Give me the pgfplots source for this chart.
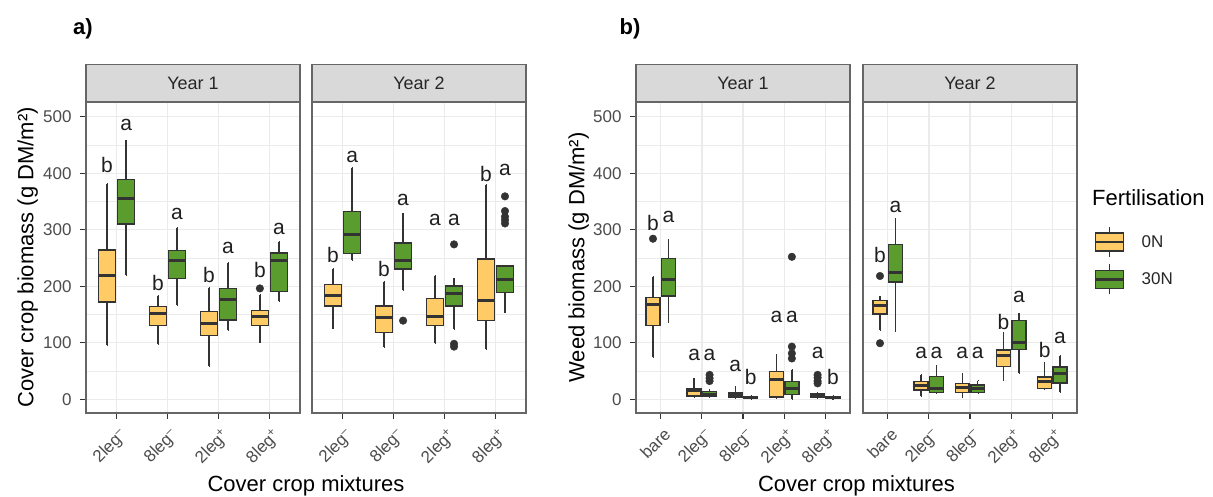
\documentclass[border=0pt]{standalone}
\usepackage{fontspec}
\setmainfont{Liberation Sans}
\usepackage{pgfplots}
\pgfplotsset{compat=1.18}
\usepgfplotslibrary{statistics}

\definecolor{c0}{HTML}{FFCB66}
\definecolor{c1}{HTML}{5A9C2E}
\definecolor{cl}{HTML}{333333}
\definecolor{gridc}{HTML}{EBEBEB}
\definecolor{stripc}{HTML}{D9D9D9}

\tikzset{lt/.style={font=\fontsize{21}{21}\selectfont, text=black!88, inner sep=0pt, anchor=center}}

\pgfplotsset{
  panel/.style={
    scale only axis, width=214pt, height=311pt, anchor=south west,
    ymin=-24.5, ymax=526, ytick={0,100,200,300,400,500}, minor ytick={50,150,250,350,450},
    xmin=0.4,
    grid=both,
    major grid style={draw=gridc, line width=1.3pt},
    minor grid style={draw=gridc, line width=0.7pt},
    axis line style={draw=black!60, line width=1.1pt},
    tick align=outside, tick pos=left, major tick length=6pt, minor tick length=0pt,
    tick style={draw=cl, line width=1.1pt},
    ticklabel style={font=\fontsize{17}{17}\selectfont, text=black!70},
    /pgf/number format/assume math mode=true,
    xticklabel style={rotate=45, anchor=north east, inner sep=2pt, yshift=-5pt, xshift=-2pt},
    yticklabel style={xshift=-5pt},
    every axis title/.style={at={(0.5,1)}, anchor=south, minimum width=214pt, minimum height=37pt,
      fill=stripc, draw=black!60, line width=1.1pt, inner sep=0pt,
      font=\fontsize{18}{18}\selectfont, text=black!85},
    ylabel style={anchor=center, font=\fontsize{22}{22}\selectfont, text=black},
    xlabel style={anchor=base, font=\fontsize{22}{22}\selectfont, text=black},
    boxplot/draw direction=y,
  },
  bx/.style={boxplot prepared={draw direction=y, box extend=0.3375, whisker extend=0.01, #1}, draw=cl, line width=1.5pt, solid, mark=none},
  boxplot/every median/.style={line width=3pt},
  outl/.style={only marks, mark=*, mark size=3.8pt, color=cl},
  leg0/.style={legend image code/.code={
      \draw[draw=cl, line width=1.4pt] (14pt,-15pt) -- (14pt,15pt);
      \draw[fill=c0, draw=cl, line width=1.4pt] (0pt,-9pt) rectangle (28pt,9pt);
      \draw[draw=cl, line width=2.5pt] (0pt,0pt) -- (28pt,0pt);}},
  leg1/.style={legend image code/.code={
      \draw[draw=cl, line width=1.4pt] (14pt,-15pt) -- (14pt,15pt);
      \draw[fill=c1, draw=cl, line width=1.4pt] (0pt,-9pt) rectangle (28pt,9pt);
      \draw[draw=cl, line width=2.5pt] (0pt,0pt) -- (28pt,0pt);}},
}

\begin{document}
\begin{tikzpicture}
\useasboundingbox (0pt,0pt) rectangle (1213pt,497pt);

% ---------------- a) Year 1
\begin{axis}[panel, at={(86pt,84pt)}, xmax=4.6, xtick={1,2,3,4},
  xticklabels={2leg\textsuperscript{–},8leg\textsuperscript{–},2leg\textsuperscript{+},8leg\textsuperscript{+}},
  title={Year 1},
  ylabel={Cover crop biomass (g DM/m²)}, ylabel style={at={(axis description cs:-0.272,0.5)}},
  xlabel={Cover crop mixtures}, xlabel style={at={(axis description cs:1.028,-0.254)}}]
\addplot[bx={draw position=0.8125,lower whisker=96,lower quartile=172,median=218,upper quartile=264,upper whisker=381},fill=c0] coordinates {};
\addplot[bx={draw position=1.1875,lower whisker=220,lower quartile=310,median=355,upper quartile=389,upper whisker=458},fill=c1] coordinates {};
\addplot[bx={draw position=1.8125,lower whisker=98,lower quartile=130,median=152,upper quartile=164,upper whisker=183},fill=c0] coordinates {};
\addplot[bx={draw position=2.1875,lower whisker=167,lower quartile=214,median=245,upper quartile=263,upper whisker=303},fill=c1] coordinates {};
\addplot[bx={draw position=2.8125,lower whisker=59,lower quartile=113,median=134,upper quartile=155,upper whisker=197},fill=c0] coordinates {};
\addplot[bx={draw position=3.1875,lower whisker=122,lower quartile=140,median=177,upper quartile=196,upper whisker=241},fill=c1] coordinates {};
\addplot[bx={draw position=3.8125,lower whisker=100,lower quartile=130,median=146,upper quartile=157,upper whisker=184},fill=c0] coordinates {};
\addplot[bx={draw position=4.1875,lower whisker=173,lower quartile=191,median=245,upper quartile=259,upper whisker=279},fill=c1] coordinates {};
\addplot[outl] coordinates {(3.8125,196)};
\node[lt] at (axis cs:0.8125,414) {b};
\node[lt] at (axis cs:1.1875,485) {a};
\node[lt] at (axis cs:1.8125,205) {b};
\node[lt] at (axis cs:2.1875,327) {a};
\node[lt] at (axis cs:2.8125,220) {b};
\node[lt] at (axis cs:3.1875,267) {a};
\node[lt] at (axis cs:3.8125,228) {b};
\node[lt] at (axis cs:4.1875,302) {a};
\end{axis}

% ---------------- a) Year 2
\begin{axis}[panel, at={(312pt,84pt)}, xmax=4.6, xtick={1,2,3,4},
  xticklabels={2leg\textsuperscript{–},8leg\textsuperscript{–},2leg\textsuperscript{+},8leg\textsuperscript{+}},
  title={Year 2}, yticklabels={}, ytick style={draw=none}]
\addplot[bx={draw position=0.8125,lower whisker=125,lower quartile=165,median=184,upper quartile=203,upper whisker=231},fill=c0] coordinates {};
\addplot[bx={draw position=1.1875,lower whisker=246,lower quartile=258,median=292,upper quartile=332,upper whisker=410},fill=c1] coordinates {};
\addplot[bx={draw position=1.8125,lower whisker=92,lower quartile=118,median=145,upper quartile=165,upper whisker=208},fill=c0] coordinates {};
\addplot[bx={draw position=2.1875,lower whisker=193,lower quartile=230,median=245,upper quartile=276,upper whisker=329},fill=c1] coordinates {};
\addplot[bx={draw position=2.8125,lower whisker=99,lower quartile=130,median=146,upper quartile=178,upper whisker=218},fill=c0] coordinates {};
\addplot[bx={draw position=3.1875,lower whisker=124,lower quartile=165,median=187,upper quartile=200,upper whisker=214},fill=c1] coordinates {};
\addplot[bx={draw position=3.8125,lower whisker=88,lower quartile=139,median=174,upper quartile=248,upper whisker=379},fill=c0] coordinates {};
\addplot[bx={draw position=4.1875,lower whisker=153,lower quartile=189,median=211,upper quartile=236,upper whisker=237},fill=c1] coordinates {};
\addplot[outl] coordinates {(2.1875,139) (3.1875,274) (3.1875,98) (3.1875,93) (4.1875,359) (4.1875,333) (4.1875,323) (4.1875,317) (4.1875,311)};
\node[lt] at (axis cs:0.8125,255) {b};
\node[lt] at (axis cs:1.1875,429) {a};
\node[lt] at (axis cs:1.8125,231) {b};
\node[lt] at (axis cs:2.1875,352) {a};
\node[lt] at (axis cs:2.8125,317) {a};
\node[lt] at (axis cs:3.1875,317) {a};
\node[lt] at (axis cs:3.8125,399) {b};
\node[lt] at (axis cs:4.1875,405) {a};
\end{axis}

% ---------------- b) Year 1
\begin{axis}[panel, at={(636pt,84pt)}, xmax=5.6, xtick={1,2,3,4,5},
  xticklabels={bare,2leg\textsuperscript{–},8leg\textsuperscript{–},2leg\textsuperscript{+},8leg\textsuperscript{+}},
  title={Year 1},
  ylabel={Weed biomass (g DM/m²)}, ylabel style={at={(axis description cs:-0.268,0.5)}},
  xlabel={Cover crop mixtures}, xlabel style={at={(axis description cs:1.030,-0.254)}}]
\addplot[bx={draw position=0.8125,lower whisker=75,lower quartile=130,median=168,upper quartile=180,upper whisker=217},fill=c0] coordinates {};
\addplot[bx={draw position=1.1875,lower whisker=137,lower quartile=183,median=211,upper quartile=249,upper whisker=283},fill=c1] coordinates {};
\addplot[bx={draw position=1.8125,lower whisker=3,lower quartile=6,median=15,upper quartile=19,upper whisker=37},fill=c0] coordinates {};
\addplot[bx={draw position=2.1875,lower whisker=3.5,lower quartile=5,median=9,upper quartile=13.5,upper whisker=16},fill=c1] coordinates {};
\addplot[bx={draw position=2.8125,lower whisker=2,lower quartile=3.5,median=8,upper quartile=12,upper whisker=22},fill=c0] coordinates {};
\addplot[bx={draw position=3.1875,lower whisker=0,lower quartile=1.2,median=2.4,upper quartile=3.5,upper whisker=6},fill=c1] coordinates {};
\addplot[bx={draw position=3.8125,lower whisker=2,lower quartile=3.5,median=34,upper quartile=49,upper whisker=78},fill=c0] coordinates {};
\addplot[bx={draw position=4.1875,lower whisker=0,lower quartile=8,median=19,upper quartile=31,upper whisker=52},fill=c1] coordinates {};
\addplot[bx={draw position=4.8125,lower whisker=2,lower quartile=3.5,median=6.5,upper quartile=9,upper whisker=11},fill=c0] coordinates {};
\addplot[bx={draw position=5.1875,lower whisker=0,lower quartile=1,median=3,upper quartile=5,upper whisker=6},fill=c1] coordinates {};
\addplot[outl] coordinates {(0.8125,284) (2.1875,43) (2.1875,37) (2.1875,32) (4.1875,252) (4.1875,93) (4.1875,81) (4.1875,72) (4.8125,43) (4.8125,38) (4.8125,32) (4.8125,28)};
\node[lt] at (axis cs:0.8125,311) {b};
\node[lt] at (axis cs:1.1875,323) {a};
\node[lt] at (axis cs:1.8125,78) {a};
\node[lt] at (axis cs:2.1875,78) {a};
\node[lt] at (axis cs:2.8125,58) {a};
\node[lt] at (axis cs:3.1875,40) {b};
\node[lt] at (axis cs:3.8125,146) {a};
\node[lt] at (axis cs:4.1875,146) {a};
\node[lt] at (axis cs:4.8125,81) {a};
\node[lt] at (axis cs:5.1875,40) {b};
\end{axis}

% ---------------- b) Year 2
\begin{axis}[panel, at={(863pt,84pt)}, xmax=5.6, xtick={1,2,3,4,5},
  xticklabels={bare,2leg\textsuperscript{–},8leg\textsuperscript{–},2leg\textsuperscript{+},8leg\textsuperscript{+}},
  title={Year 2}, yticklabels={}, ytick style={draw=none},
  legend style={at={(1.079,0.601)}, anchor=north west, draw=none, fill=none, inner sep=0pt,
    font=\fontsize{17}{17}\selectfont, row sep=6pt, column sep=17pt, nodes={inner sep=0pt, text=black!85}},
  legend cell align=left]
\addlegendimage{leg0}
\addlegendentry{0N}
\addlegendimage{leg1}
\addlegendentry{30N}
\addplot[bx={draw position=0.8125,lower whisker=122,lower quartile=151,median=165,upper quartile=175,upper whisker=182},fill=c0] coordinates {};
\addplot[bx={draw position=1.1875,lower whisker=120,lower quartile=207,median=224,upper quartile=274,upper whisker=320},fill=c1] coordinates {};
\addplot[bx={draw position=1.8125,lower whisker=6,lower quartile=16.5,median=25,upper quartile=31,upper whisker=43},fill=c0] coordinates {};
\addplot[bx={draw position=2.1875,lower whisker=11,lower quartile=12,median=19,upper quartile=40,upper whisker=59},fill=c1] coordinates {};
\addplot[bx={draw position=2.8125,lower whisker=3.5,lower quartile=12,median=21,upper quartile=28,upper whisker=45},fill=c0] coordinates {};
\addplot[bx={draw position=3.1875,lower whisker=11,lower quartile=12,median=19,upper quartile=25,upper whisker=33},fill=c1] coordinates {};
\addplot[bx={draw position=3.8125,lower whisker=34,lower quartile=58,median=78,upper quartile=87,upper whisker=117},fill=c0] coordinates {};
\addplot[bx={draw position=4.1875,lower whisker=46,lower quartile=88,median=100,upper quartile=139,upper whisker=152},fill=c1] coordinates {};
\addplot[bx={draw position=4.8125,lower whisker=18,lower quartile=19,median=31,upper quartile=39,upper whisker=64},fill=c0] coordinates {};
\addplot[bx={draw position=5.1875,lower whisker=12,lower quartile=29,median=46,upper quartile=56.5,upper whisker=77},fill=c1] coordinates {};
\addplot[outl] coordinates {(0.8125,218) (0.8125,99)};
\node[lt] at (axis cs:0.8125,255) {b};
\node[lt] at (axis cs:1.1875,340) {a};
\node[lt] at (axis cs:1.8125,81) {a};
\node[lt] at (axis cs:2.1875,81) {a};
\node[lt] at (axis cs:2.8125,81) {a};
\node[lt] at (axis cs:3.1875,81) {a};
\node[lt] at (axis cs:3.8125,137) {b};
\node[lt] at (axis cs:4.1875,181) {a};
\node[lt] at (axis cs:4.8125,87) {b};
\node[lt] at (axis cs:5.1875,108) {a};
\end{axis}

\node[font=\bfseries\fontsize{22}{22}\selectfont, anchor=center] at (83pt,468pt) {a)};
\node[font=\bfseries\fontsize{22}{22}\selectfont, anchor=center] at (630pt,468pt) {b)};
\node[font=\fontsize{22}{22}\selectfont, anchor=west, inner sep=0pt] at (1092pt,299pt) {Fertilisation};
\end{tikzpicture}
\end{document}
